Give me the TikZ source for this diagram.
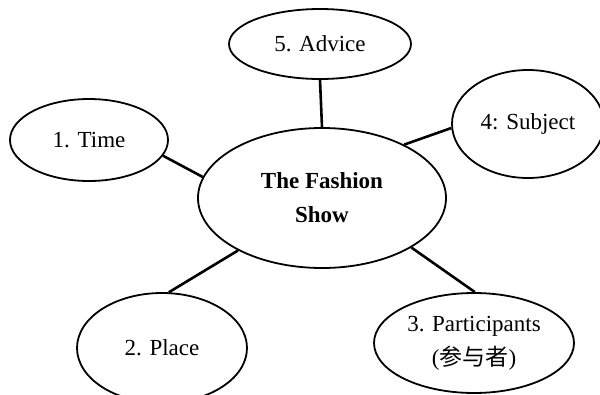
\documentclass[tikz,border=0pt]{standalone}
\usepackage{fontspec}
\setmainfont{Liberation Serif}
\newfontfamily\cjk{Noto Sans CJK SC}
\usetikzlibrary{shapes.geometric}
\begin{document}
\begin{tikzpicture}[x=1pt,y=-1pt,
  bubble/.style={draw, ellipse, line width=1.8pt, inner sep=0pt, align=center,
    font=\fontsize{23}{34}\selectfont},
  link/.style={line width=2.6pt}]
\useasboundingbox (0,0) rectangle (600,394);
\clip (0,0) rectangle (600,394);
\fill[white] (0,0) rectangle (600,394);
\node[bubble, minimum width=248pt, minimum height=140pt] (c) at (322,198)
  {\textbf{The Fashion}\\\textbf{Show}};
\node[bubble, minimum width=182pt, minimum height=70pt] (adv) at (320,44) {5. Advice};
\node[bubble, minimum width=158pt, minimum height=82pt] (tim) at (89,140) {1. Time};
\node[bubble, minimum width=152pt, minimum height=108pt] (sub) at (528,124) {4: Subject};
\node[bubble, minimum width=170pt, minimum height=110pt] (pla) at (162,348) {2. Place};
\node[bubble, minimum width=200pt, minimum height=100pt] (par) at (474,343)
  {3. Participants\\({\cjk 参与者})};
\draw[link] (adv.south) -- (c.north);
\draw[link] (tim.-12) -- (c.170);
\draw[link] (sub.183) -- (c.33);
\draw[link] (pla.83) -- (c.212);
\draw[link] (par.89) -- (c.-29);
\end{tikzpicture}
\end{document}
